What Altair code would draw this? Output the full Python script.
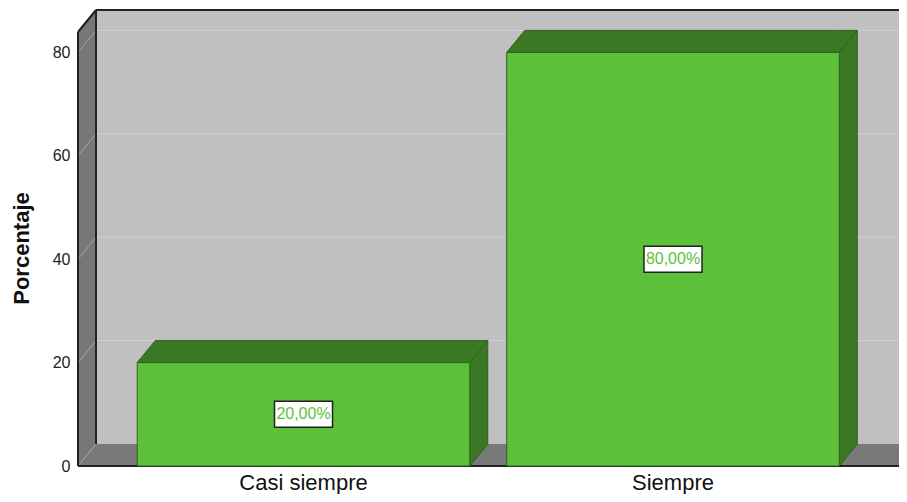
import altair as alt
import pandas as pd

# ---- data ----
categories = ["Casi siempre", "Siempre"]
percentages = [20.0, 80.0]
y_ticks = [0, 20, 40, 60, 80]
y_title = "Porcentaje"

# ---- layout (pixels / data units) ----
PAD_L, PAD_T = 70, 2
TOTAL_W, TOTAL_H = 891, 486
W, H = TOTAL_W - PAD_L, 456
PX_PER_STEP = 369.5
X_MIN = -0.6103
X_MAX = X_MIN + W / PX_PER_STEP
Y_MAX = 88.2
px_x = W / (X_MAX - X_MIN)
px_y = H / Y_MAX
DX = 18 / px_x
DY = 22 / px_y
HALF = 0.45
FLOOR_END = 1.614
TOP_FRONT = Y_MAX - DY

FONT = "Liberation Sans"
WALL_BACK = "#c0c0c0"
WALL_SIDE = "#777777"
FLOOR = "#797979"
GRID_BACK = "#d2d2d2"
GRID_SIDE = "#a4a4a4"
EDGE = "#222222"
BAR = "#5cc139"
BAR_DARK = "#3b7824"
BAR_EDGE = "#2f611d"

xs = alt.Scale(domain=[X_MIN, X_MAX], nice=False, zero=False)
ys = alt.Scale(domain=[0, Y_MAX], nice=False, zero=False)
y_axis = alt.Axis(
    values=y_ticks, grid=False, domain=False, ticks=False,
    labelFont=FONT, labelFontSize=16, labelColor="#222222", labelPadding=8,
    title=y_title, titleFont=FONT, titleFontSize=22, titleFontWeight="bold",
    titleColor="#111111", titleX=-57, titleY=238, titleBaseline="middle",
    titleAlign="center",
)


def X(f):
    return alt.X(f"{f}:Q", scale=xs, axis=None)


def Y(f):
    return alt.Y(f"{f}:Q", scale=ys, axis=y_axis, stack=False)


# back wall
back = pd.DataFrame([{"x": X_MIN + DX, "x2": X_MAX, "y": DY, "y2": Y_MAX}])
back_l = alt.Chart(back).mark_rect(color=WALL_BACK).encode(
    x=X("x"), x2="x2:Q", y=Y("y"), y2="y2:Q")

grid_back = pd.DataFrame([{"x": X_MIN + DX, "x2": X_MAX, "y": v + DY} for v in y_ticks if v > 0])
grid_back_l = alt.Chart(grid_back).mark_rule(color=GRID_BACK, strokeWidth=1).encode(
    x=X("x"), x2="x2:Q", y=Y("y"))

# floor
floor = pd.DataFrame([
    {"x": X_MIN, "y": 0, "y2": 0},
    {"x": X_MIN + DX, "y": 0, "y2": DY},
    {"x": FLOOR_END, "y": 0, "y2": DY},
    {"x": FLOOR_END + DX, "y": DY, "y2": DY},
])
floor_l = alt.Chart(floor).mark_area(color=FLOOR, orient="vertical", clip=True).encode(
    x=X("x"), y=Y("y"), y2="y2:Q")

# left wall
left = pd.DataFrame([
    {"x": X_MIN, "y": 0, "y2": TOP_FRONT},
    {"x": X_MIN + DX, "y": DY, "y2": Y_MAX},
])
left_l = alt.Chart(left).mark_area(color=WALL_SIDE, orient="vertical").encode(
    x=X("x"), y=Y("y"), y2="y2:Q")

grid_side = pd.DataFrame([{"x": X_MIN, "y": v, "x2": X_MIN + DX, "y2": v + DY} for v in y_ticks])
grid_side_l = alt.Chart(grid_side).mark_rule(color=GRID_SIDE, strokeWidth=1).encode(
    x=X("x"), y=Y("y"), x2="x2:Q", y2="y2:Q")

# frame edges
edges = pd.DataFrame([
    {"x": X_MIN, "y": 0, "x2": FLOOR_END, "y2": 0},
    {"x": X_MIN, "y": 0, "x2": X_MIN, "y2": TOP_FRONT},
    {"x": X_MIN, "y": TOP_FRONT, "x2": X_MIN + DX, "y2": Y_MAX},
    {"x": X_MIN + DX, "y": DY, "x2": X_MIN + DX, "y2": Y_MAX},
    {"x": X_MIN + DX, "y": Y_MAX, "x2": X_MAX, "y2": Y_MAX},
])
edges_l = alt.Chart(edges).mark_rule(color=EDGE, strokeWidth=2).encode(
    x=X("x"), y=Y("y"), x2="x2:Q", y2="y2:Q")

# bars: 3D faces
faces = []
fronts = []
for i, (c, v) in enumerate(zip(categories, percentages)):
    x0, x1 = i - HALF, i + HALF
    fronts.append({"x": x0, "x2": x1, "y": 0, "y2": v, "cat": c})
    top_id = f"top{i}"
    for px, py, py2 in [(x0, v, v), (x0 + DX, v, v + DY), (x1, v, v + DY), (x1 + DX, v + DY, v + DY)]:
        faces.append({"face": top_id, "x": px, "y": py, "y2": py2})
    side_id = f"side{i}"
    for px, py, py2 in [(x1, 0, v), (x1 + DX, DY, v + DY)]:
        faces.append({"face": side_id, "x": px, "y": py, "y2": py2})
faces = pd.DataFrame(faces)
fronts = pd.DataFrame(fronts)

faces_l = alt.Chart(faces).mark_area(
    color=BAR_DARK, orient="vertical", stroke=BAR_EDGE, strokeWidth=1).encode(
    x=X("x"), y=Y("y"), y2="y2:Q", detail="face:N")

front_l = alt.Chart(fronts).mark_rect(color=BAR, stroke=BAR_EDGE, strokeWidth=1).encode(
    x=X("x"), x2="x2:Q", y=Y("y"), y2="y2:Q")

# value labels
labels = pd.DataFrame([
    {"x": i, "y": v / 2, "txt": f"{v:.2f}".replace(".", ",") + "%"}
    for i, v in enumerate(percentages)
])
box_l = alt.Chart(labels).mark_rect(
    fill="white", stroke="#222222", strokeWidth=1.5,
    xOffset=-29, x2Offset=29, yOffset=-13, y2Offset=13).encode(
    x=X("x"), x2="x:Q", y=Y("y"), y2="y:Q")
txt_l = alt.Chart(labels).mark_text(
    font=FONT, fontSize=16, color=BAR, baseline="middle", align="center").encode(
    x=X("x"), y=Y("y"), text="txt:N")

# category labels
cats = pd.DataFrame([{"x": i, "y": 0, "cat": c} for i, c in enumerate(categories)])
cat_l = alt.Chart(cats).mark_text(
    font=FONT, fontSize=22, color="#111111", baseline="alphabetic", align="center", dy=24).encode(
    x=X("x"), y=Y("y"), text="cat:N")

chart = alt.layer(
    back_l, grid_back_l, floor_l, left_l, grid_side_l, edges_l,
    faces_l, front_l, box_l, txt_l, cat_l,
).properties(
    width=W, height=H,
    autosize=alt.AutoSizeParams(type="none"),
    padding={"left": PAD_L, "top": PAD_T, "right": 0, "bottom": TOTAL_H - H - PAD_T},
    background="white",
).configure_view(stroke=None)

chart.save("out.html", embed_options={"renderer": "svg", "actions": False})
